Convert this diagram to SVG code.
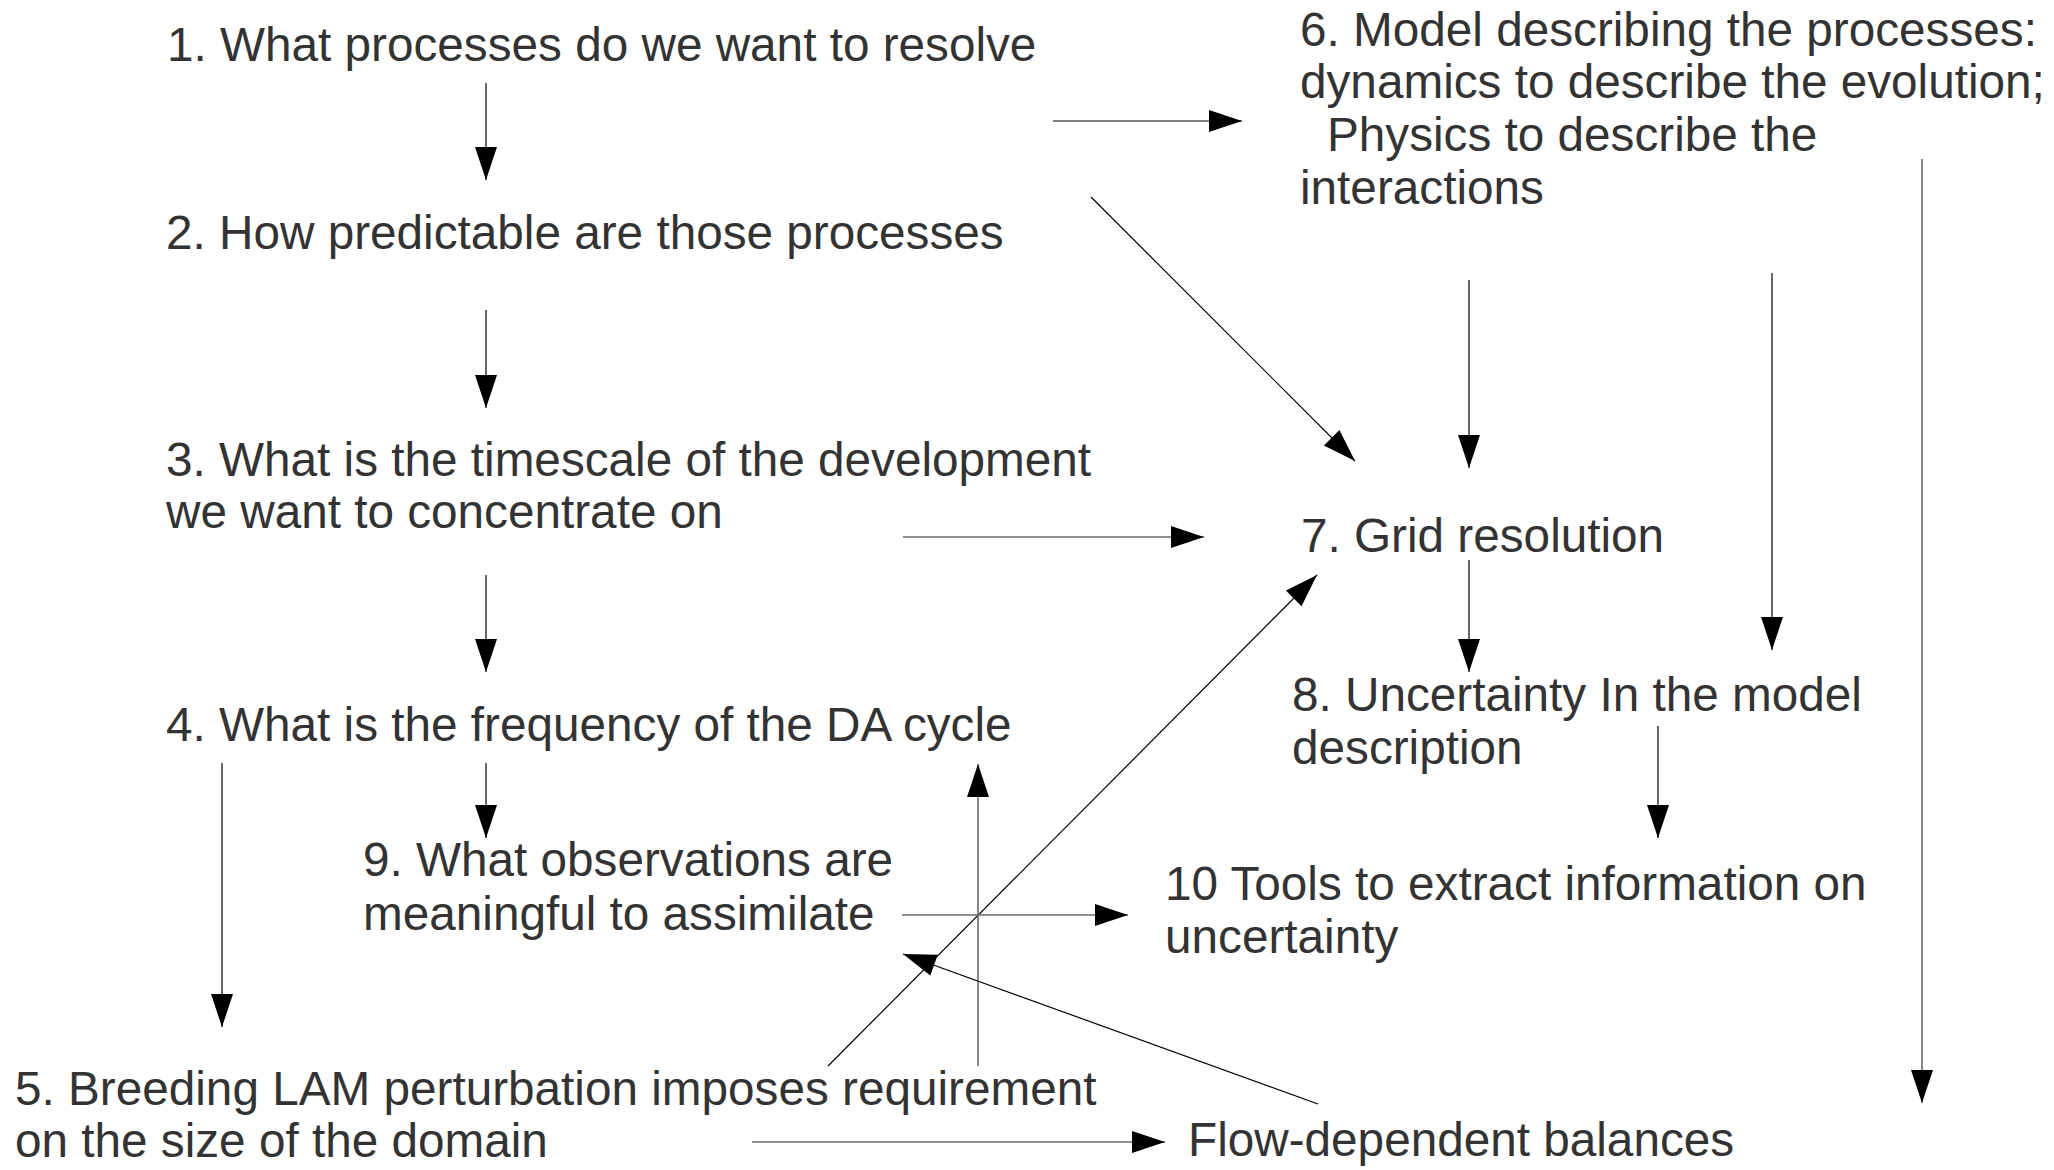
<svg xmlns="http://www.w3.org/2000/svg" width="2054" height="1170" viewBox="0 0 2054 1170">
  <style>
    .t { font-family: "Liberation Sans", Arial, sans-serif; font-size: 47.7px; fill: #333333; }
    .k { stroke: #000000; stroke-width: 1.2; fill: none; marker-end: url(#head); }
    .g { stroke: #6a6a6a; stroke-width: 1.6; fill: none; marker-end: url(#head); }
  </style>
  <defs>
    <marker id="head" markerUnits="userSpaceOnUse" markerWidth="34" markerHeight="24" refX="33" refY="11" orient="auto" overflow="visible">
      <path d="M0,0 L33,11 L0,22 Z" fill="#000000"/>
    </marker>
  </defs>
  <rect width="2054" height="1170" fill="#ffffff"/>

  <!-- connectors -->
  <g id="connectors">
    <line class="k" x1="486" y1="83" x2="486" y2="180"/>
    <line class="k" x1="486" y1="310" x2="486" y2="408"/>
    <line class="k" x1="486" y1="575" x2="486" y2="672"/>
    <line class="k" x1="486" y1="763" x2="486" y2="838"/>
    <line class="k" x1="222" y1="763" x2="222" y2="1027"/>
    <line class="k" x1="1053" y1="121" x2="1242" y2="121"/>
    <line class="k" x1="1091" y1="197" x2="1355" y2="461"/>
    <line class="k" x1="1469" y1="280" x2="1469" y2="468"/>
    <line class="k" x1="1772" y1="273" x2="1772" y2="650"/>
    <line class="g" x1="1922" y1="159" x2="1922" y2="1103"/>
    <line class="g" x1="903" y1="537" x2="1204" y2="537"/>
    <line class="k" x1="1469" y1="560" x2="1469" y2="672"/>
    <line class="k" x1="1658" y1="726" x2="1658" y2="838"/>
    <line class="k" x1="828" y1="1066" x2="1317" y2="575"/>
    <line class="g" x1="902" y1="915" x2="1128" y2="915"/>
    <line class="g" x1="978" y1="1066" x2="978" y2="764"/>
    <line class="k" x1="1318" y1="1104" x2="903" y2="954"/>
    <line class="g" x1="752" y1="1142" x2="1165" y2="1142"/>
  </g>

  <g id="n1"><text class="t" x="167" y="61">1. What processes do we want to resolve</text></g>
  <g id="n2"><text class="t" x="166" y="249">2. How predictable are those processes</text></g>
  <g id="n3">
    <text class="t" x="166" y="476">3. What is the timescale of the development</text>
    <text class="t" x="166" y="528">we want to concentrate on</text>
  </g>
  <g id="n4"><text class="t" x="166" y="741">4. What is the frequency of the DA cycle</text></g>
  <g id="n5">
    <text class="t" x="15" y="1105">5. Breeding LAM perturbation imposes requirement</text>
    <text class="t" x="15" y="1157">on the size of the domain</text>
  </g>
  <g id="n6">
    <text class="t" x="1300" y="46">6. Model describing the processes:</text>
    <text class="t" x="1300" y="98">dynamics to describe the evolution;</text>
    <text class="t" x="1327" y="151">Physics to describe the</text>
    <text class="t" x="1300" y="204">interactions</text>
  </g>
  <g id="n7"><text class="t" x="1301" y="552">7. Grid resolution</text></g>
  <g id="n8">
    <text class="t" x="1292" y="711">8. Uncertainty In the model</text>
    <text class="t" x="1292" y="764">description</text>
  </g>
  <g id="n9">
    <text class="t" x="363" y="876">9. What observations are</text>
    <text class="t" x="363" y="930">meaningful to assimilate</text>
  </g>
  <g id="n10">
    <text class="t" x="1165" y="900">10 Tools to extract information on</text>
    <text class="t" x="1165" y="953">uncertainty</text>
  </g>
  <g id="n11"><text class="t" x="1188" y="1156">Flow-dependent balances</text></g>
</svg>
